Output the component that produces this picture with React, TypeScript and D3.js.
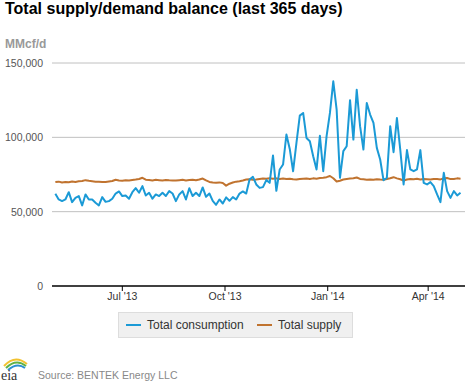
import React from "react";
import * as d3 from "d3";

// ---- data (one value every 3 days) ----
const seriesStart = new Date(2013, 4, 2);
const stepDays = 3;

const consumption = [
  62000, 58200, 57100, 58200, 63100, 56400, 59300, 60500, 54200, 61600,
  58200, 58200, 56000, 54200, 59800, 56600, 57100, 58700, 62200, 63600,
  60500, 60900, 58700, 63100, 65800, 62700, 67200, 60900, 62700, 58700,
  61600, 60500, 62700, 60500, 63800, 62200, 57100, 61600, 63800, 58200,
  65800, 60500, 62700, 60500, 66300, 60000, 62200, 57300, 54600, 58200,
  55500, 59600, 57300, 59800, 58200, 62200, 63600, 62200, 71600, 73400,
  68300, 66000, 66500, 71200, 69400, 87800, 64000, 78400, 81700, 101900,
  92200, 77200, 96300, 114600, 116400, 99600, 97400, 87300, 78400, 101000,
  77200, 100800, 116400, 137700, 118700, 72800, 90700, 94000, 125000, 98500,
  132000, 107500, 91800, 123100, 115300, 109700, 92900, 85100, 71200, 72800,
  107500, 90000, 113000, 91800, 68300, 91400, 78400, 77200, 78400, 91400,
  69400, 68300, 69900, 67200, 61600, 56400, 76100, 63800, 59300, 63800,
  60900, 62700,
];

const supply = [
  69900, 70200, 69600, 70000, 69800, 70300, 70000, 70400, 70600, 71200,
  70800, 70500, 70200, 70100, 69900, 70000, 70300, 70600, 71500, 71000,
  70800, 71100, 70900, 71300, 71600, 72000, 72800, 71500, 71300, 71000,
  71400, 71200, 71000, 71300, 71100, 71000, 70900, 71200, 71400, 71000,
  71300, 71500, 71200, 71600, 72300, 71000, 70000, 69600, 69500, 69700,
  69300, 67500, 68800, 69600, 70200, 70500, 71000, 71600, 71800, 71500,
  71600, 72000, 72300, 72100, 72500, 72200, 72400, 72000, 72300, 71900,
  72200, 71800, 71600, 72000, 72200, 72300, 72000, 72400, 72200, 72600,
  72800, 73200, 74000, 72500, 70300, 70800, 71600, 72000, 72300, 72500,
  73000, 72000, 71800, 71500, 71700, 71400, 71800, 71600, 71500, 72000,
  72500, 73200, 72400, 71800, 71000, 71600, 72000, 71800, 72100, 71700,
  72000, 71800, 71600, 72000, 71900, 71700, 72400, 72600, 71900, 72000,
  72400, 72100,
];

const yTicks = [0, 50000, 100000, 150000];
const xTickDates = [new Date(2013, 6, 1), new Date(2013, 9, 1), new Date(2014, 0, 1), new Date(2014, 3, 1)];
const xTickLabels = ["Jul '13", "Oct '13", "Jan '14", "Apr '14"];
const seriesNames = ["Total consumption", "Total supply"];
const seriesColors = ["#1b9ad6", "#c0732f"];

const W = 470;
const H = 383;
const plotLeft = 52;
const plotRight = 465;
const plotTop = 63;
const plotBottom = 286;

export default function App() {
  const x = d3
    .scaleTime()
    .domain([new Date(2013, 3, 29), new Date(2014, 4, 4)])
    .range([plotLeft, plotRight]);
  const y = d3.scaleLinear().domain([0, 150000]).range([plotBottom, plotTop]);
  const dateAt = (i: number) => d3.timeDay.offset(seriesStart, i * stepDays);
  const line = d3
    .line<number>()
    .x((_, i) => x(dateAt(i)))
    .y((v) => y(v));
  const fmt = d3.format(",");
  const font = "'Liberation Sans', Arial, sans-serif";

  return (
    <svg
      width={W}
      height={H}
      style={{ position: "absolute", left: 0, top: 0, background: "#fff" }}
      fontFamily={font}
    >
      <text x={5} y={14} fontSize={16} fontWeight="bold" fill="#000">
        Total supply/demand balance (last 365 days)
      </text>
      <text x={5} y={48} fontSize={12} fontWeight="bold" fill="#999">
        MMcf/d
      </text>

      {yTicks.map((t) => (
        <g key={t}>
          {t > 0 && (
            <line x1={plotLeft} x2={plotRight} y1={y(t)} y2={y(t)} stroke="#c0c0c0" strokeWidth={1} />
          )}
          <text x={43} y={y(t) + 4} fontSize={10.5} textAnchor="end" fill="#555">
            {fmt(t)}
          </text>
        </g>
      ))}

      <path d={line(supply) || ""} fill="none" stroke={seriesColors[1]} strokeWidth={2} strokeLinejoin="round" />
      <path d={line(consumption) || ""} fill="none" stroke={seriesColors[0]} strokeWidth={2} strokeLinejoin="round" />

      <line x1={plotLeft} x2={plotRight} y1={plotBottom} y2={plotBottom} stroke="#000" strokeWidth={1.5} />
      {xTickDates.map((d, i) => (
        <g key={i}>
          <line x1={x(d)} x2={x(d)} y1={plotBottom} y2={plotBottom + 5} stroke="#000" strokeWidth={1} />
          <text x={x(d)} y={300} fontSize={10.5} textAnchor="middle" fill="#333">
            {xTickLabels[i]}
          </text>
        </g>
      ))}

      <rect x={118.5} y={312.5} width={234} height={25} fill="#f0f0f0" stroke="#ddd" />
      <line x1={126} x2={141} y1={325} y2={325} stroke={seriesColors[0]} strokeWidth={2} />
      <text x={147} y={329} fontSize={12} fill="#333">
        {seriesNames[0]}
      </text>
      <line x1={257} x2={272} y1={325} y2={325} stroke={seriesColors[1]} strokeWidth={2} />
      <text x={278} y={329} fontSize={12} fill="#333">
        {seriesNames[1]}
      </text>

      <g>
        <path d="M4,366 Q15,354 27,364" fill="none" stroke="#f2c230" strokeWidth={2} />
        <path d="M6,368 Q16,358 26,366" fill="none" stroke="#5fb246" strokeWidth={2} />
        <path d="M8,370 Q17,362 25,368" fill="none" stroke="#2b8fd0" strokeWidth={2} />
        <text x={1} y={380} fontSize={14} fontFamily="'Liberation Serif', serif" fill="#333">
          eia
        </text>
      </g>
      <text x={38} y={379} fontSize={10.5} fill="#888">
        Source: BENTEK Energy LLC
      </text>
    </svg>
  );
}
